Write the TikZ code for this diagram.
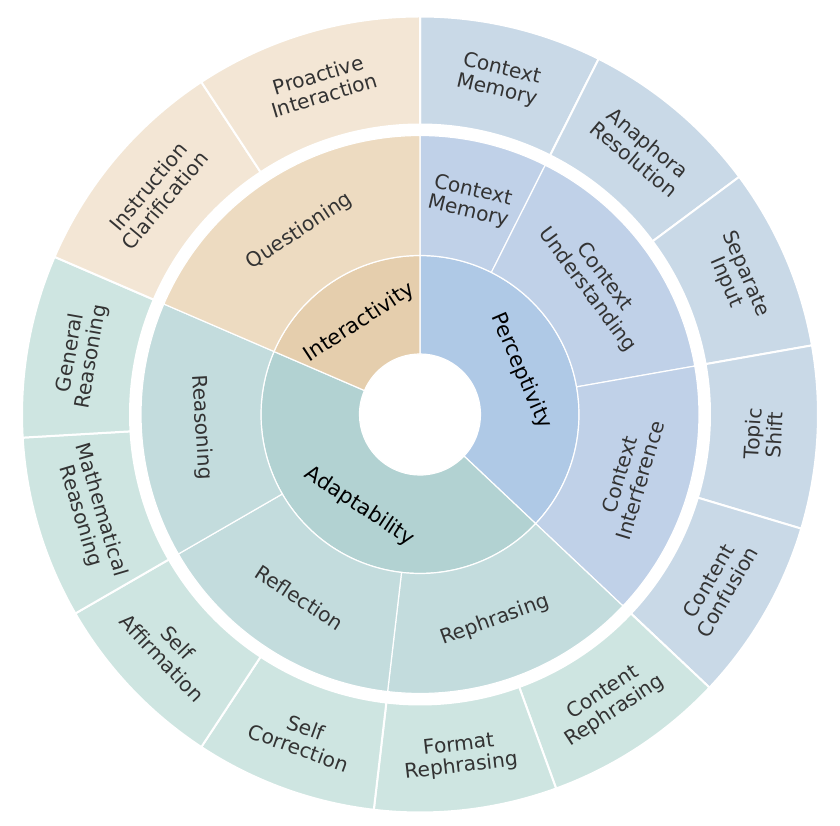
\documentclass[tikz,border=0pt]{standalone}
\usepackage{fontspec}
\setmainfont{DejaVu Sans}
\definecolor{pOne}{HTML}{AFC9E6}
\definecolor{pTwo}{HTML}{C0D1E8}
\definecolor{pThree}{HTML}{C9D9E7}
\definecolor{aOne}{HTML}{B2D2D2}
\definecolor{aTwo}{HTML}{C3DCDD}
\definecolor{aThree}{HTML}{CEE5E1}
\definecolor{iOne}{HTML}{E5CEAD}
\definecolor{iTwo}{HTML}{EDDBC1}
\definecolor{iThree}{HTML}{F3E6D5}
\definecolor{txtgray}{HTML}{333333}
\tikzset{
  labone/.style={font=\fontsize{21}{24}\selectfont, text=black, align=center, inner sep=0pt},
  labtwo/.style={font=\fontsize{20.2}{21.5}\selectfont, text=txtgray, align=center, inner sep=0pt},
  thinedge/.style={draw=white, line width=1.2pt, line join=round},
  thickedge/.style={draw=white, line width=2pt, line join=round},
}
\newcommand\mywedge[6]{%
  \filldraw[fill=#5, #6] (#3:#1pt) arc[start angle=#3, end angle=#4, radius=#1pt]
    -- (#4:#2pt) arc[start angle=#4, end angle=#3, radius=#2pt] -- cycle;}
\begin{document}
\begin{tikzpicture}
\useasboundingbox (-420pt,-411.5pt) rectangle (420pt,414.5pt);
% ring 1
\mywedge{60.5}{159}{-43.333}{90}{pOne}{thinedge}
\mywedge{60.5}{159}{-203.333}{-43.333}{aOne}{thinedge}
\mywedge{60.5}{159}{90}{156.667}{iOne}{thinedge}
% ring 2
\mywedge{159}{279}{63.333}{90}{pTwo}{thinedge}
\mywedge{159}{279}{10}{63.333}{pTwo}{thinedge}
\mywedge{159}{279}{-43.333}{10}{pTwo}{thinedge}
\mywedge{159}{279}{-96.667}{-43.333}{aTwo}{thinedge}
\mywedge{159}{279}{-150}{-96.667}{aTwo}{thinedge}
\mywedge{159}{279}{-203.333}{-150}{aTwo}{thinedge}
\mywedge{159}{279}{90}{156.667}{iTwo}{thinedge}
% ring 3
\mywedge{290}{398}{63.333}{90}{pThree}{thickedge}
\mywedge{290}{398}{36.667}{63.333}{pThree}{thickedge}
\mywedge{290}{398}{10}{36.667}{pThree}{thickedge}
\mywedge{290}{398}{-16.667}{10}{pThree}{thickedge}
\mywedge{290}{398}{-43.333}{-16.667}{pThree}{thickedge}
\mywedge{290}{398}{-70}{-43.333}{aThree}{thickedge}
\mywedge{290}{398}{-96.667}{-70}{aThree}{thickedge}
\mywedge{290}{398}{-123.333}{-96.667}{aThree}{thickedge}
\mywedge{290}{398}{-150}{-123.333}{aThree}{thickedge}
\mywedge{290}{398}{-176.667}{-150}{aThree}{thickedge}
\mywedge{290}{398}{-203.333}{-176.667}{aThree}{thickedge}
\mywedge{290}{398}{123.333}{156.667}{iThree}{thickedge}
\mywedge{290}{398}{90}{123.333}{iThree}{thickedge}
% labels ring 1
\node[labone, rotate=-66.667] (perc) at (23.333:110pt) {Perceptivity};
\node[labone, rotate=-33.333] (adap) at (-123.333:110pt) {Adaptability};
\node[labone, rotate=33.333] (inter) at (123.333:110pt) {Interactivity};
% labels ring 2
\node[labtwo, rotate=-13.333] (cmtwo) at (76.667:219pt) {Context\\Memory};
\node[labtwo, rotate=-53.333] (cu) at (36.667:219pt) {Context\\Understanding};
\node[labtwo, rotate=73.333] (ci) at (-16.667:219pt) {Context\\Interference};
\node[labtwo, rotate=20] (reph) at (-70:219pt) {Rephrasing};
\node[labtwo, rotate=-33.333] (refl) at (-123.333:219pt) {Reflection};
\node[labtwo, rotate=-86.667] (reas) at (-176.667:219pt) {Reasoning};
\node[labtwo, rotate=33.333] (ques) at (123.333:219pt) {Questioning};
% labels ring 3
\node[labtwo, rotate=-13.333] (cmthree) at (76.667:344pt) {Context\\Memory};
\node[labtwo, rotate=-40] (ana) at (50:344pt) {Anaphora\\Resolution};
\node[labtwo, rotate=-66.667] (sep) at (23.333:344pt) {Separate\\Input};
\node[labtwo, rotate=86.667] (topic) at (-3.333:344pt) {Topic\\Shift};
\node[labtwo, rotate=60] (conf) at (-30:344pt) {Content\\Confusion};
\node[labtwo, rotate=33.333] (creph) at (-56.667:344pt) {Content\\Rephrasing};
\node[labtwo, rotate=6.667] (freph) at (-83.333:344pt) {Format\\Rephrasing};
\node[labtwo, rotate=-20] (scorr) at (-110:344pt) {Self\\Correction};
\node[labtwo, rotate=-46.667] (saff) at (-136.667:344pt) {Self\\Affirmation};
\node[labtwo, rotate=-73.333] (math) at (-163.333:344pt) {Mathematical\\Reasoning};
\node[labtwo, rotate=80] (gen) at (-190:344pt) {General\\Reasoning};
\node[labtwo, rotate=50] (instr) at (140:344pt) {Instruction\\Clarification};
\node[labtwo, rotate=16.667] (proact) at (106.667:344pt) {Proactive\\Interaction};
\end{tikzpicture}
\end{document}
